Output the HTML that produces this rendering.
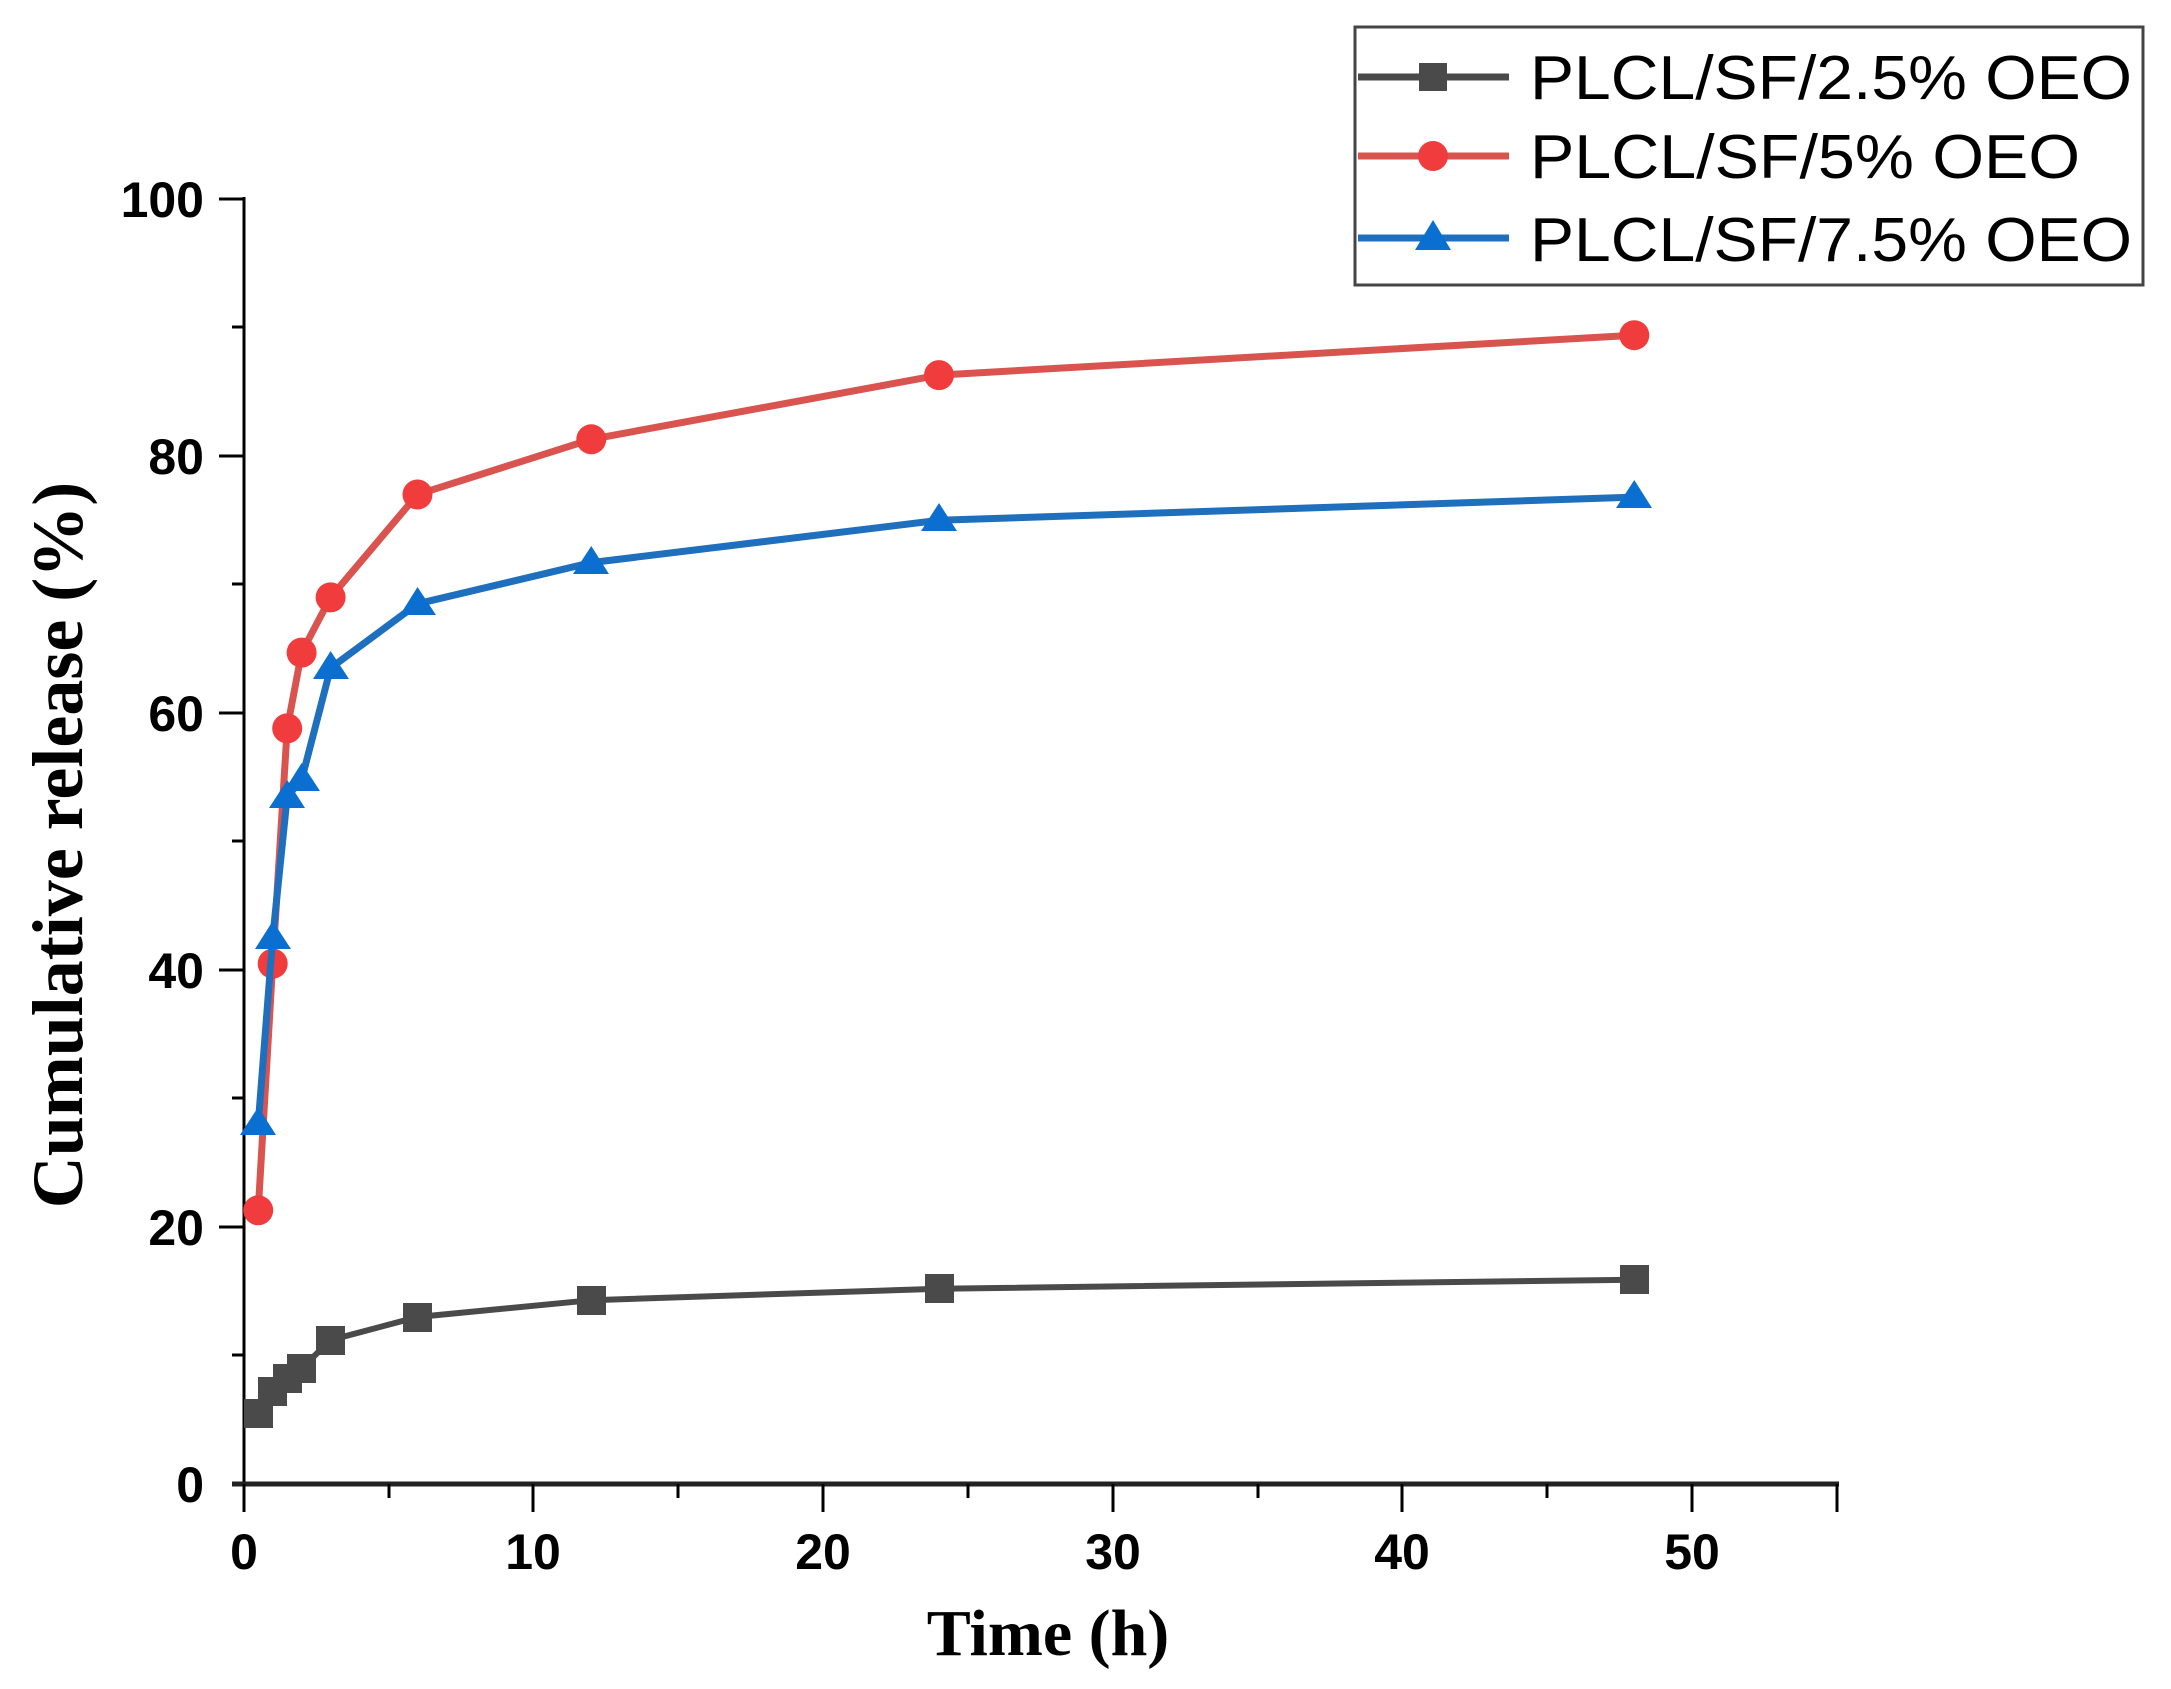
<!DOCTYPE html>
<html><head><meta charset="utf-8"><style>
html,body{margin:0;padding:0;background:#fff;}
svg{display:block}
</style></head><body>
<svg width="2171" height="1689" viewBox="0 0 2171 1689" xmlns="http://www.w3.org/2000/svg">
<rect width="2171" height="1689" fill="#fff"/>
<line x1="244" y1="197" x2="244" y2="1510" stroke="#000" stroke-width="3"/>
<line x1="232" y1="1484" x2="1839" y2="1484" stroke="#222" stroke-width="5"/>
<g stroke="#000" stroke-width="3">
<line x1="219" y1="199" x2="244" y2="199"/><line x1="219" y1="456" x2="244" y2="456"/><line x1="219" y1="713" x2="244" y2="713"/><line x1="219" y1="970" x2="244" y2="970"/><line x1="219" y1="1227" x2="244" y2="1227"/>
<line x1="232" y1="327" x2="244" y2="327"/><line x1="232" y1="584" x2="244" y2="584"/><line x1="232" y1="841" x2="244" y2="841"/><line x1="232" y1="1098" x2="244" y2="1098"/><line x1="232" y1="1355" x2="244" y2="1355"/>
<line x1="244" y1="1484" x2="244" y2="1512"/><line x1="533" y1="1484" x2="533" y2="1512"/><line x1="823" y1="1484" x2="823" y2="1512"/><line x1="1113" y1="1484" x2="1113" y2="1512"/><line x1="1402" y1="1484" x2="1402" y2="1512"/><line x1="1692" y1="1484" x2="1692" y2="1512"/>
<line x1="389" y1="1484" x2="389" y2="1498"/><line x1="678" y1="1484" x2="678" y2="1498"/><line x1="968" y1="1484" x2="968" y2="1498"/><line x1="1258" y1="1484" x2="1258" y2="1498"/><line x1="1547" y1="1484" x2="1547" y2="1498"/><line x1="1837" y1="1484" x2="1837" y2="1512"/>
</g>
<g font-family="Liberation Sans, sans-serif" font-weight="bold" font-size="50" fill="#000" text-anchor="end">
<text x="204" y="217">100</text><text x="204" y="474">80</text><text x="204" y="731">60</text><text x="204" y="988">40</text><text x="204" y="1245">20</text><text x="204" y="1502">0</text>
</g>
<g font-family="Liberation Sans, sans-serif" font-weight="bold" font-size="50" fill="#000" text-anchor="middle">
<text x="244" y="1569">0</text><text x="533" y="1569">10</text><text x="823" y="1569">20</text><text x="1113" y="1569">30</text><text x="1402" y="1569">40</text><text x="1692" y="1569">50</text>
</g>
<text x="1048" y="1655" font-family="Liberation Serif, serif" font-weight="bold" font-size="66" text-anchor="middle">Time (h)</text>
<text transform="translate(82,845) rotate(-90)" font-family="Liberation Serif, serif" font-weight="bold" font-size="72" text-anchor="middle">Cumulative release (%)</text>
<polyline fill="none" stroke="#4a4a4a" stroke-width="6" points="258.2,1413.3 272.7,1391.5 287.2,1378.6 301.6,1368.3 330.6,1340.1 417.5,1317 591.3,1300.2 939,1288.7 1634.3,1279.7"/>
<g fill="#4a4a4a">
<rect x="244" y="1399" width="29" height="29"/><rect x="258" y="1377" width="29" height="29"/><rect x="273" y="1364" width="29" height="29"/><rect x="287" y="1354" width="29" height="29"/><rect x="316" y="1326" width="29" height="29"/><rect x="403" y="1303" width="29" height="29"/><rect x="577" y="1286" width="29" height="29"/><rect x="925" y="1274" width="29" height="29"/><rect x="1620" y="1265" width="29" height="29"/>
</g>
<polyline fill="none" stroke="#d9534f" stroke-width="7" points="258.2,1210.3 272.7,963.6 287.2,728.4 301.6,652.6 330.6,597.4 417.5,494.5 591.3,439.3 939,375.1 1634.3,335.2"/>
<g fill="#f03c3c">
<circle cx="258.2" cy="1210.3" r="15"/><circle cx="272.7" cy="963.6" r="15"/><circle cx="287.2" cy="728.4" r="15"/><circle cx="301.6" cy="652.6" r="15"/><circle cx="330.6" cy="597.4" r="15"/><circle cx="417.5" cy="494.5" r="15"/><circle cx="591.3" cy="439.3" r="15"/><circle cx="939" cy="375.1" r="15"/><circle cx="1634.3" cy="335.2" r="15"/>
</g>
<polyline fill="none" stroke="#1f6fbf" stroke-width="7" points="258.2,1124.2 272.7,937.9 287.2,796.5 301.6,779.8 330.6,668 417.5,603.8 591.3,562.6 939,520.3 1634.3,497.1"/>
<g fill="#0a6fd0">
<polygon points="258.2,1107 240,1135 276,1135"/><polygon points="272.7,921 255,949 291,949"/><polygon points="287.2,780 269,808 305,808"/><polygon points="301.6,763 284,791 320,791"/><polygon points="330.6,651 313,679 349,679"/><polygon points="417.5,587 400,615 436,615"/><polygon points="591.3,546 573,574 609,574"/><polygon points="939,503 921,531 957,531"/><polygon points="1634.3,480 1616,508 1652,508"/>
</g>
<rect x="1355" y="27" width="788" height="258" fill="#fff" stroke="#444" stroke-width="3"/>
<line x1="1358" y1="77" x2="1509" y2="77" stroke="#4a4a4a" stroke-width="7"/>
<rect x="1419" y="63" width="28" height="28" fill="#4a4a4a"/>
<line x1="1358" y1="156" x2="1509" y2="156" stroke="#d9534f" stroke-width="7"/>
<circle cx="1433" cy="156" r="15" fill="#f03c3c"/>
<line x1="1358" y1="238" x2="1509" y2="238" stroke="#1f6fbf" stroke-width="7"/>
<polygon points="1433,220 1415,250 1451,250" fill="#0a6fd0"/>
<g font-family="Liberation Sans, sans-serif" font-size="62" fill="#000">
<text x="1530" y="99" textLength="602" lengthAdjust="spacingAndGlyphs">PLCL/SF/2.5% OEO</text>
<text x="1530" y="178" textLength="550" lengthAdjust="spacingAndGlyphs">PLCL/SF/5% OEO</text>
<text x="1530" y="261" textLength="602" lengthAdjust="spacingAndGlyphs">PLCL/SF/7.5% OEO</text>
</g>
</svg>
</body></html>
